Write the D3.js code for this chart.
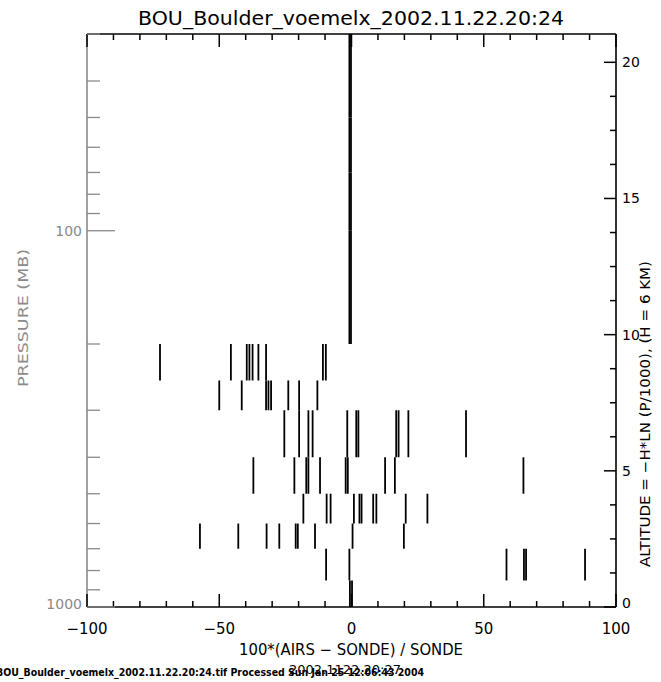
<!DOCTYPE html>
<html><head><meta charset="utf-8">
<script src="https://cdn.jsdelivr.net/npm/d3@7"></script>
<style>
html,body{margin:0;padding:0;background:#fff;}
svg{display:block;}
text{font-family:"DejaVu Sans",sans-serif;}
</style></head>
<body><svg id="chart" width="661" height="682"></svg>
<script>
// ---- data ----
const titleText = "BOU_Boulder_voemelx_2002.11.22.20:24";
const xTitle = "100*(AIRS \u2212 SONDE) / SONDE";
const yTitle = "PRESSURE (MB)";
const y2Title = "ALTITUDE = \u2212H*LN (P/1000), (H = 6 KM)";
const footerText = "BOU_Boulder_voemelx_2002.11.22.20:24.tif Processed Sun Jan 25 12:06:43 2004";
const footerOverlay = "2002.1122.20:27";

const xTicksMajor = [-100, -50, 0, 50, 100];
const xTicksMinor = [-90,-80,-70,-60,-40,-30,-20,-10,10,20,30,40,60,70,80,90];
const pTicksMajor = [100, 1000];
const pTicksMinor = [30,40,50,60,70,80,90,200,300,400,500,600,700,800,900];
const altTicksMajor = [0, 5, 10, 15, 20];
const altTicksMinor = [1.25,2.5,3.75,6.25,7.5,8.75,11.25,12.5,13.75,16.25,17.5,18.75];

// pressure layers (mb) and the bar values (percent difference) in each
const layerTop    = [30, 50, 70, 100, 150, 200, 250, 300, 400, 500, 600, 700, 850];
const layerBottom = [50, 70, 100, 150, 200, 250, 300, 400, 500, 600, 700, 850, 1000];
const layerValues = [
  [-0.8, -0.2],
  [-0.8, -0.2],
  [-0.8, -0.2],
  [-0.8, -0.2],
  [-0.8, -0.2],
  [-72.4, -45.6, -39.6, -38.6, -37.4, -35.2, -32.3, -10.8, -9.7],
  [-50.0, -41.5, -32.3, -31.4, -30.4, -23.9, -19.8, -12.9],
  [-25.4, -19.8, -16.3, -14.7, -1.6, 1.8, 2.6, 16.9, 17.8, 21.5, 43.3],
  [-37.1, -21.6, -17.1, -16.3, -11.9, -2.2, -1.4, 12.7, 16.4, 65.0],
  [-18.2, -9.4, -7.9, 0.9, 3.0, 3.8, 8.2, 9.4, 20.5, 28.7],
  [-57.3, -42.8, -32.1, -27.3, -21.1, -20.3, -13.8, 0.4, 19.8],
  [-9.6, -0.8, 58.6, 65.2, 66.0, 88.3],
  [-0.6, 0.2]
];
const scaleHeightKm = 6;

// ---- layout ----
const L = 87, R = 616, T = 34, B = 607;
const svg = d3.select("#chart");

const x = d3.scaleLinear().domain([-100, 100]).range([L, R]);
const y = d3.scaleLog().domain([1000, 30]).range([B, T]);
const altMax = -scaleHeightKm * Math.log(30 / 1000);
const y2 = d3.scaleLinear().domain([0, altMax]).range([B, T]);

// bars
const bars = [];
layerValues.forEach((vals, i) => vals.forEach(v => bars.push({v, p0: layerTop[i], p1: layerBottom[i]})));
svg.append("g").selectAll("line").data(bars).join("line")
  .attr("x1", d => x(d.v)).attr("x2", d => x(d.v))
  .attr("y1", d => y(d.p0)).attr("y2", d => y(d.p1))
  .attr("stroke", "#000").attr("stroke-width", 1.8);

// frame
const gray = "#8a8a8a";
svg.append("line").attr("x1", L).attr("x2", R).attr("y1", T).attr("y2", T).attr("stroke", "#000").attr("stroke-width", 1.6);
svg.append("line").attr("x1", L).attr("x2", R).attr("y1", B).attr("y2", B).attr("stroke", "#000").attr("stroke-width", 1.6);
svg.append("line").attr("x1", R).attr("x2", R).attr("y1", T).attr("y2", B).attr("stroke", "#000").attr("stroke-width", 1.6);
svg.append("line").attr("x1", L).attr("x2", L).attr("y1", T).attr("y2", B).attr("stroke", gray).attr("stroke-width", 1.6);

// bottom & top ticks
function xTicks(vals, len) {
  svg.append("g").selectAll("line").data(vals).join("line")
    .attr("x1", d => x(d)).attr("x2", d => x(d)).attr("y1", B).attr("y2", B - len)
    .attr("stroke", "#000").attr("stroke-width", 1.5);
  svg.append("g").selectAll("line").data(vals).join("line")
    .attr("x1", d => x(d)).attr("x2", d => x(d)).attr("y1", T).attr("y2", T + len)
    .attr("stroke", "#000").attr("stroke-width", 1.5);
}
xTicks(xTicksMajor, 13);
xTicks(xTicksMinor, 6);

svg.append("g").selectAll("text").data(xTicksMajor).join("text")
  .attr("x", d => x(d)).attr("y", 634).attr("text-anchor", "middle")
  .attr("font-size", 15).attr("fill", "#000")
  .text(d => d < 0 ? "\u2212" + Math.abs(d) : d);

// left pressure axis (grey)
svg.append("g").selectAll("line").data(pTicksMajor).join("line")
  .attr("x1", L).attr("x2", L + 28).attr("y1", d => y(d)).attr("y2", d => y(d))
  .attr("stroke", gray).attr("stroke-width", 1.3);
svg.append("g").selectAll("line").data(pTicksMinor).join("line")
  .attr("x1", L).attr("x2", L + 13).attr("y1", d => y(d)).attr("y2", d => y(d))
  .attr("stroke", gray).attr("stroke-width", 1.3);
svg.append("g").selectAll("text").data(pTicksMajor).join("text")
  .attr("x", 82).attr("y", d => (d === 1000 ? y(d) - 3 : y(d)) + 5).attr("text-anchor", "end")
  .attr("font-size", 14).attr("fill", gray)
  .text(d => d);
svg.append("text").attr("transform", `translate(28,318) rotate(-90)`)
  .attr("text-anchor", "middle").attr("font-size", 14).attr("textLength", 138).attr("lengthAdjust", "spacingAndGlyphs")
  .attr("fill", gray).text(yTitle);

// right altitude axis
svg.append("g").selectAll("line").data(altTicksMajor).join("line")
  .attr("x1", R).attr("x2", R - 12).attr("y1", d => y2(d)).attr("y2", d => y2(d))
  .attr("stroke", "#000").attr("stroke-width", 1.5);
svg.append("g").selectAll("line").data(altTicksMinor).join("line")
  .attr("x1", R).attr("x2", R - 6).attr("y1", d => y2(d)).attr("y2", d => y2(d))
  .attr("stroke", "#000").attr("stroke-width", 1.5);
svg.append("g").selectAll("text").data(altTicksMajor).join("text")
  .attr("x", 622).attr("y", d => (d === 0 ? y2(d) - 4 : y2(d)) + 5)
  .attr("font-size", 14).attr("fill", "#000").text(d => d);
svg.append("text").attr("transform", `translate(650,414) rotate(-90)`)
  .attr("text-anchor", "middle").attr("font-size", 14).attr("textLength", 306).attr("lengthAdjust", "spacingAndGlyphs")
  .attr("fill", "#000").text(y2Title);

// titles
svg.append("text").attr("x", 351).attr("y", 25).attr("text-anchor", "middle")
  .attr("font-size", 19).attr("textLength", 426).attr("lengthAdjust", "spacingAndGlyphs")
  .attr("fill", "#000").text(titleText);
svg.append("text").attr("x", 351).attr("y", 655).attr("text-anchor", "middle")
  .attr("font-size", 15).attr("textLength", 224).attr("lengthAdjust", "spacingAndGlyphs")
  .attr("fill", "#000").text(xTitle);
svg.append("text").attr("x", -4).attr("y", 676)
  .attr("font-size", 10).attr("font-weight", "bold").attr("textLength", 428).attr("lengthAdjust", "spacingAndGlyphs")
  .attr("fill", "#000").text(footerText);
svg.append("text").attr("x", 345).attr("y", 674).attr("text-anchor", "middle")
  .attr("font-size", 13).attr("fill", "#000").text(footerOverlay);
</script></body></html>
